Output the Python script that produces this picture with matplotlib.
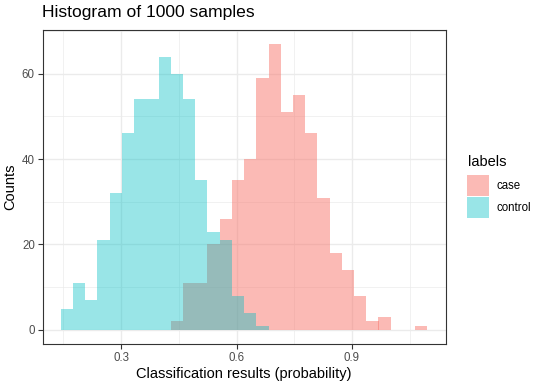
import matplotlib
matplotlib.use("Agg")
import matplotlib.pyplot as plt
from matplotlib.patches import Patch
from matplotlib.ticker import MultipleLocator
import numpy as np

plt.rcParams['font.family'] = ['Liberation Sans', 'DejaVu Sans']

# ---- data ----
bin_start = 0.1434
bin_width = 0.03175
case_counts = [0, 0, 0, 0, 0, 0, 0, 0, 0, 2, 11, 11, 20, 26, 35, 40, 59, 67,
               51, 55, 46, 31, 18, 14, 8, 2, 3, 0, 0, 1]
control_counts = [5, 11, 7, 21, 32, 46, 54, 54, 64, 60, 54, 35, 23, 21, 8, 4, 1,
                  0, 0, 0, 0, 0, 0, 0, 0, 0, 0, 0, 0, 0]
labels = ["case", "control"]
colors = ["#F8766D", "#00BFC4"]
x_ticks = [0.3, 0.6, 0.9]
y_ticks = [0, 20, 40, 60]
title = "Histogram of 1000 samples"
xlabel = "Classification results (probability)"
ylabel = "Counts"
legend_title = "labels"

W, H = 541, 383
fig = plt.figure(figsize=(W / 100, H / 100), dpi=100)
ax = fig.add_axes([42.5 / W, 1 - 344.2 / H, (445.7 - 42.5) / W, (344.2 - 29.5) / H])

edges = bin_start + bin_width * np.arange(len(case_counts) + 1)
centers = (edges[:-1] + edges[1:]) / 2
alphas = [0.5, 0.4]
for counts, col, a in zip([case_counts, control_counts], colors, alphas):
    ax.bar(centers, counts, width=bin_width, color=col, alpha=a, linewidth=0, zorder=2)

# limits with ggplot-like 5% expansion
xmin, xmax = edges[0], edges[-1]
xr = xmax - xmin
ax.set_xlim(xmin - 0.05 * xr, xmax + 0.05 * xr)
ymax = max(max(case_counts), max(control_counts))
ax.set_ylim(-0.05 * ymax, ymax * 1.05)

ax.set_xticks(x_ticks)
ax.set_xticklabels([f"{v:.1f}" for v in x_ticks])
ax.set_yticks(y_ticks)
ax.xaxis.set_minor_locator(MultipleLocator(0.15))
ax.yaxis.set_minor_locator(MultipleLocator(10))

ax.set_axisbelow(True)
ax.grid(which='major', color='#EBEBEB', linewidth=1.0, zorder=0)
ax.grid(which='minor', color='#EBEBEB', linewidth=0.5, zorder=0)

for s in ax.spines.values():
    s.set_color('#333333')
    s.set_linewidth(0.8)
ax.tick_params(which='major', length=3.5, width=0.8, color='#333333',
               labelsize=8.3, labelcolor='#4D4D4D', pad=2)
ax.tick_params(which='minor', length=0)

ax.set_xlabel(xlabel, fontsize=10.5, color='black', labelpad=2)
ax.set_ylabel(ylabel, fontsize=10.5, color='black', labelpad=3)
ax.set_title(title, fontsize=12.6, loc='left', pad=9)

handles = [Patch(facecolor=c, alpha=a, edgecolor='none') for c, a in zip(colors, alphas)]
leg = fig.legend(handles, labels, loc='upper left',
                 bbox_to_anchor=(467.5 / W, 1 - 175 / H), frameon=False,
                 fontsize=8.3, handlelength=1.87, handleheight=2.4,
                 labelspacing=0.1, handletextpad=0.65, borderaxespad=0, borderpad=0)
fig.text(467.7 / W, 1 - 166.5 / H, legend_title, fontsize=10.5, ha='left', va='baseline')

fig.savefig("out.png", dpi=100)
